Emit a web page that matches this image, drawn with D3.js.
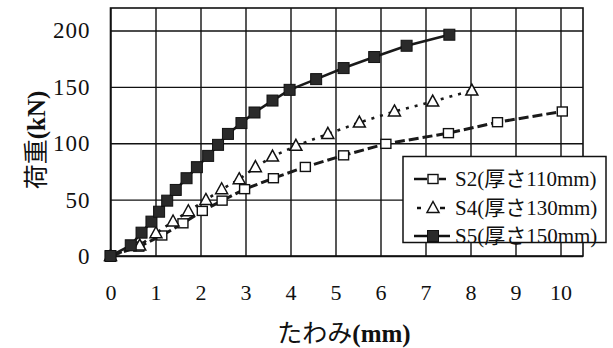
<!DOCTYPE html>
<html><head><meta charset="utf-8">
<script src="https://cdn.jsdelivr.net/npm/d3@7"></script>
<style>
body{margin:0;background:#fff;}
text{font-family:"Liberation Serif","Noto Sans CJK JP",serif;fill:#111;}
</style></head>
<body><svg id="c" width="613" height="348"></svg>
<script>
const xTicks = [0,1,2,3,4,5,6,7,8,9,10];
const yTicks = [0,50,100,150,200];
const xTitle = "たわみ";
const xUnit = "(mm)";
const yTitle = "荷重";
const yUnit = "(kN)";
const seriesNames = ["S2(厚さ110mm)","S4(厚さ130mm)","S5(厚さ150mm)"];

const s2X = [0,0.63,1.14,1.61,2.04,2.48,2.98,3.62,4.33,5.18,6.12,7.51,8.6,10.04];
const s2Y = [0,8.3,18.2,29,40,49.1,59.3,69,79,89.3,99.5,109,118.7,128.2];

const s4X = [0,0.65,1.01,1.39,1.73,2.12,2.47,2.86,3.22,3.60,4.12,4.83,5.53,6.31,7.16,8.03];
const s4Y = [0,9.3,20.2,30.6,39.7,49.7,59.2,68.1,78.8,88.2,97.7,108.3,118.4,128.2,137,146.8];

const s5X = [0,0.45,0.69,0.91,1.08,1.26,1.45,1.69,1.92,2.17,2.39,2.61,2.91,3.20,3.60,3.98,4.57,5.18,5.86,6.58,7.53];
const s5Y = [0,9.5,20.7,30.5,39.3,49.1,58.6,69,78.8,88.8,98.6,108.3,117.9,127.3,137.9,147.4,156.9,166.7,176.5,186.5,196.3];

const svg = d3.select("#c");
const L=110.5, R=583, T=8, B=256;
const x = d3.scaleLinear().domain([0,10.5]).range([L,R]);
const y = d3.scaleLinear().domain([0,220]).range([B,T]);

// grid
const g = svg.append("g");
g.append("g").attr("transform",`translate(0,${B})`)
 .call(d3.axisBottom(x).tickValues(xTicks).tickSize(-(B-T)).tickFormat(""))
 .call(a=>a.select(".domain").remove())
 .selectAll("line").attr("stroke","#111").attr("stroke-width",1.4);
g.append("g").attr("transform",`translate(${L},0)`)
 .call(d3.axisLeft(y).tickValues(yTicks).tickSize(-(R-L)).tickFormat(""))
 .call(a=>a.select(".domain").remove())
 .selectAll("line").attr("stroke","#111").attr("stroke-width",1.4);
svg.append("rect").attr("x",L).attr("y",T).attr("width",R-L).attr("height",B-T)
 .attr("fill","none").attr("stroke","#111").attr("stroke-width",1.6);

// tick labels
const xa = svg.append("g").attr("transform",`translate(0,${B})`)
 .call(d3.axisBottom(x).tickValues(xTicks).tickSize(0).tickPadding(28).tickFormat(d3.format("d")));
xa.select(".domain").remove();
xa.selectAll("text").attr("font-size",22).style("font-family","Liberation Serif").attr("fill","#111");
const ya = svg.append("g").attr("transform",`translate(${L},0)`)
 .call(d3.axisLeft(y).tickValues(yTicks).tickSize(0).tickPadding(20).tickFormat(d3.format("d")));
ya.select(".domain").remove();
ya.selectAll("text").attr("font-size",23).attr("letter-spacing","1px").style("font-family","Liberation Serif").attr("fill","#111");

// titles
const xt = svg.append("text").attr("x",344).attr("y",342).attr("text-anchor","middle").attr("font-size",25);
xt.append("tspan").text(xTitle);
xt.append("tspan").attr("font-weight","bold").text(xUnit);
const yt = svg.append("text").attr("transform","translate(45,140) rotate(-90)").attr("text-anchor","middle").attr("font-size",25);
yt.append("tspan").text(yTitle);
yt.append("tspan").attr("font-weight","bold").text(yUnit);

// series
const line = d3.line().x(d=>x(d[0])).y(d=>y(d[1]));
const zip = (a,b)=>a.map((v,i)=>[v,b[i]]);
const series = [
 {name:seriesNames[0], pts:zip(s2X,s2Y), dash:"10,4", w:3, marker:"sq"},
 {name:seriesNames[1], pts:zip(s4X,s4Y), dash:"3,6", w:2.6, marker:"tri"},
 {name:seriesNames[2], pts:zip(s5X,s5Y), dash:null, w:2.6, marker:"fsq"}
];
function drawMarker(sel, type, cx, cy){
  if(type==="sq"){
    sel.append("rect").attr("x",cx-5).attr("y",cy-4.5).attr("width",10).attr("height",9)
      .attr("fill","#fff").attr("stroke","#111").attr("stroke-width",1.4);
  } else if(type==="tri"){
    sel.append("path").attr("d",`M${cx},${cy-6.5}L${cx+6},${cy+4.5}L${cx-6},${cy+4.5}Z`)
      .attr("fill","#fff").attr("stroke","#111").attr("stroke-width",1.5);
  } else {
    sel.append("rect").attr("x",cx-5.5).attr("y",cy-5.5).attr("width",11).attr("height",11)
      .attr("fill","#2a2a2a").attr("stroke","#111").attr("stroke-width",1);
  }
}
series.forEach(s=>{
  const gs = svg.append("g");
  const p = gs.append("path").attr("d",line(s.pts)).attr("fill","none")
    .attr("stroke","#1a1a1a").attr("stroke-width",s.w);
  if(s.dash) p.attr("stroke-dasharray",s.dash);
  s.pts.forEach(d=>drawMarker(gs,s.marker,x(d[0]),y(d[1])));
});

// legend
const lg = svg.append("g");
lg.append("rect").attr("x",403).attr("y",156.5).attr("width",203).attr("height",86)
  .attr("fill","#fff").attr("stroke","#111").attr("stroke-width",1.5);
const rowsY=[179,208,236];
series.forEach((s,i)=>{
  const cy=rowsY[i];
  if(s.marker==="sq"){
    lg.append("line").attr("x1",414).attr("x2",427).attr("y1",cy).attr("y2",cy).attr("stroke","#111").attr("stroke-width",2.5);
    lg.append("line").attr("x1",439).attr("x2",446).attr("y1",cy).attr("y2",cy).attr("stroke","#111").attr("stroke-width",2.5);
  } else if(s.marker==="tri"){
    lg.append("line").attr("x1",417).attr("x2",421).attr("y1",cy).attr("y2",cy).attr("stroke","#111").attr("stroke-width",2.5);
    lg.append("line").attr("x1",440).attr("x2",445).attr("y1",cy).attr("y2",cy).attr("stroke","#111").attr("stroke-width",2.5);
  } else {
    lg.append("line").attr("x1",414).attr("x2",450).attr("y1",cy).attr("y2",cy).attr("stroke","#111").attr("stroke-width",2.5);
  }
  drawMarker(lg,s.marker,433,cy);
  lg.append("text").attr("x",455).attr("y",cy).attr("dy","0.35em").attr("font-size",21).text(s.name);
});
</script></body></html>
